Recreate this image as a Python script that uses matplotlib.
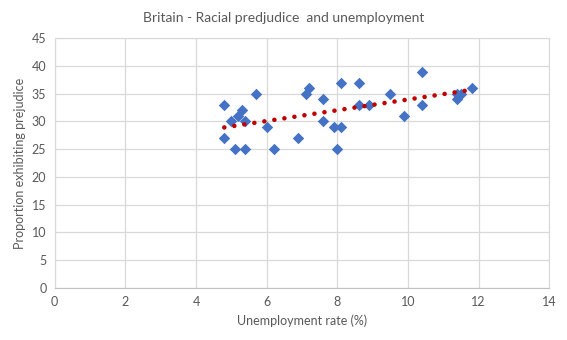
import numpy as np
import matplotlib
matplotlib.use("Agg")
import matplotlib.pyplot as plt

# Unemployment rate (%) and proportion exhibiting prejudice
unemployment = [4.8, 4.8, 5.0, 5.1, 5.2, 5.3, 5.4, 5.4, 5.7, 6.0, 6.2, 6.9,
                7.1, 7.2, 7.6, 7.6, 7.9, 8.0, 8.1, 8.1, 8.6, 8.6, 8.9, 9.5,
                9.9, 10.4, 10.4, 11.4, 11.5, 11.4, 11.8]
prejudice = [33, 27, 30, 25, 31, 32, 30, 25, 35, 29, 25, 27,
             35, 36, 34, 30, 29, 25, 29, 37, 37, 33, 33, 35,
             31, 39, 33, 35, 35, 34, 36]

x_ticks = [0, 2, 4, 6, 8, 10, 12, 14]
y_ticks = [0, 5, 10, 15, 20, 25, 30, 35, 40, 45]

plt.rcParams['font.family'] = ['Lato', 'DejaVu Sans']
text_col = '#595959'
grid_col = '#D9D9D9'

fig = plt.figure(figsize=(5.67, 3.4), dpi=100)
ax = fig.add_axes([0.0965, 0.154, 0.8723, 0.733])

ax.scatter(unemployment, prejudice, marker='D', s=34, color='#4472C4',
           linewidths=0, zorder=3)

# linear trend line, like Excel's
slope, intercept = np.polyfit(unemployment, prejudice, 1)
tx = np.array([min(unemployment), max(unemployment)])
ax.plot(tx, slope * tx + intercept, color='#C00000', linewidth=3.3,
        linestyle=(0, (0.01, 2.2)), dash_capstyle='round', zorder=4)

ax.set_xlim(0, 14)
ax.set_ylim(0, 45)
ax.set_xticks(x_ticks)
ax.set_yticks(y_ticks)
ax.grid(True, color=grid_col, linewidth=0.9)
ax.set_axisbelow(True)
for side in ['top', 'right', 'left']:
    ax.spines[side].set_color(grid_col)
ax.spines['bottom'].set_color('#BFBFBF')
ax.tick_params(length=0, labelsize=9, labelcolor=text_col, pad=6)

ax.set_xlabel("Unemployment rate (%)", fontsize=9, color=text_col, labelpad=5)
ax.set_ylabel("Proportion exhibiting prejudice", fontsize=9, color=text_col,
              labelpad=4)
fig.text(0.5, 0.948, "Britain - Racial predjudice  and unemployment",
         ha='center', va='center', fontsize=10, color=text_col)

fig.savefig("out.png", dpi=100)
